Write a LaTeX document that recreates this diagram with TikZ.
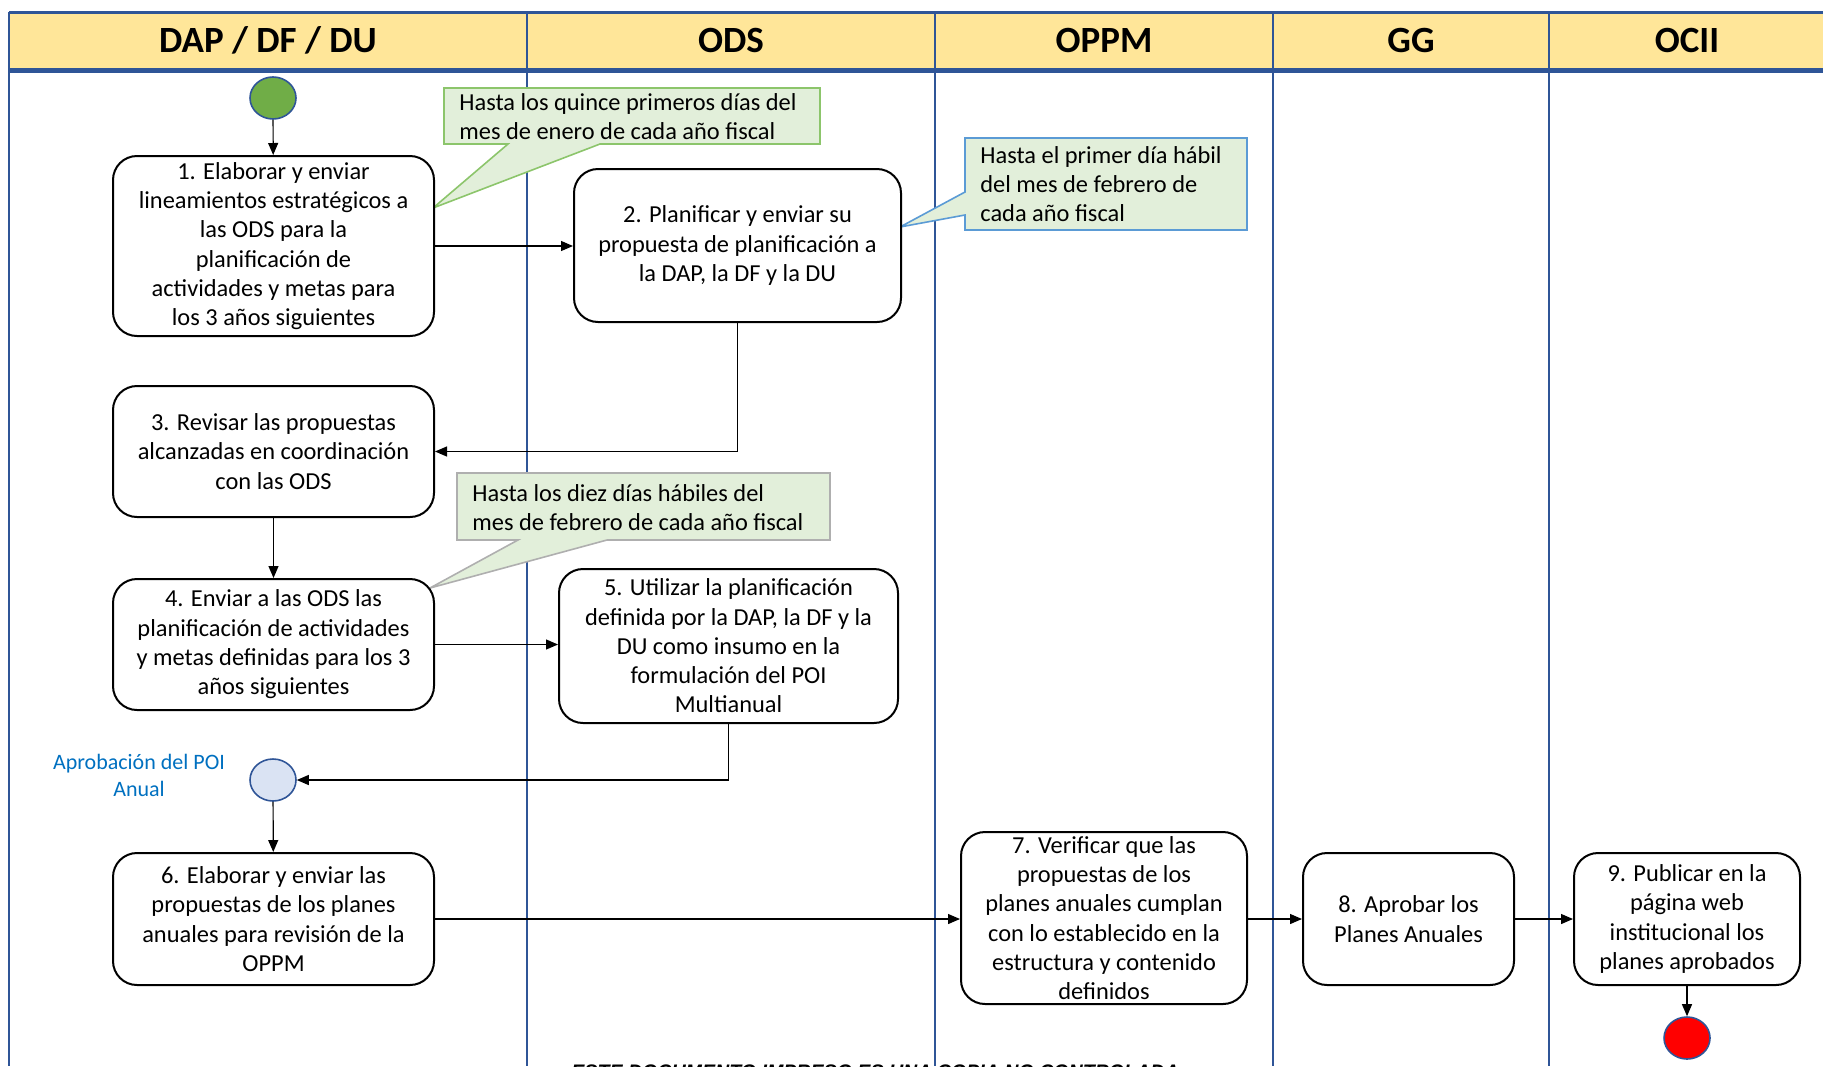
\documentclass[tikz,border=0pt]{standalone}
\usepackage{fontspec}
\setmainfont{Carlito}
\newfontfamily\stampfont{Liberation Sans}
\usetikzlibrary{shapes.geometric,arrows.meta}

\definecolor{laneblue}{HTML}{2F5597}
\definecolor{headfill}{HTML}{FFE699}
\definecolor{notefill}{HTML}{E2EFDA}
\definecolor{notegreen}{HTML}{8CC56B}
\definecolor{noteblue}{HTML}{5B9BD5}
\definecolor{notegray}{HTML}{AFAFAF}
\definecolor{startgreen}{HTML}{70AD47}
\definecolor{poifill}{HTML}{DAE3F3}
\definecolor{labelblue}{HTML}{0070C0}

\begin{document}
\begin{tikzpicture}[x=0.5pt, y=-0.5pt,
  every node/.style={font=\fontsize{12.2}{14.65}\selectfont},
  activity/.style={draw, fill=white, rounded corners=12pt, line width=1pt, align=center, inner sep=0pt},
  event/.style={ellipse, draw=laneblue, line width=0.8pt, minimum width=23pt, minimum height=21pt, inner sep=0pt},
  note/.style={align=left, anchor=west, inner sep=0pt},
  lanehead/.style={font=\bfseries\fontsize{18.5}{22}\selectfont},
  lane/.style={draw=laneblue, line width=1pt},
  flow/.style={-{Triangle[length=6pt,width=5pt]}, line width=0.6pt}]
\useasboundingbox (0,0) rectangle (1823,1066);
\clip (0,0) rectangle (1823,1066);

\fill[headfill] (9,12) rectangle (1823,70);
\draw[lane] (9,12) -- (9,1066);
\draw[lane] (527,12) -- (527,1066);
\draw[lane] (935,12) -- (935,1066);
\draw[lane] (1273,12) -- (1273,1066);
\draw[lane] (1549,12) -- (1549,1066);
\draw[laneblue, line width=1.5pt] (9,12) -- (1823,12);
\draw[laneblue, line width=2.5pt] (9,70) -- (1823,70);

\node[lanehead] (h1) at (268,40) {DAP / DF / DU};
\node[lanehead] (h2) at (731,40) {ODS};
\node[lanehead] (h3) at (1104,40) {OPPM};
\node[lanehead] (h4) at (1411,40) {GG};
\node[lanehead] (h5) at (1687,40) {OCII};

\filldraw[fill=notefill, draw=notegreen, line width=0.8pt]
  (444,88) -- (820,88) -- (820,144) -- (600,144) -- (433,208) -- (508,144) -- (444,144) -- cycle;
\node[note] (n1) at (459,116.5) {Hasta los quince primeros días del\\mes de enero de cada año fiscal};

\filldraw[fill=notefill, draw=noteblue, line width=0.8pt]
  (965,138) -- (1247,138) -- (1247,230) -- (965,230) -- (965,215) -- (900,227) -- (965,192) -- cycle;
\node[note] (n2) at (980,184) {Hasta el primer día hábil\\del mes de febrero de\\cada año fiscal};

\filldraw[fill=notefill, draw=notegray, line width=0.8pt]
  (457,473) -- (830,473) -- (830,540) -- (607,540) -- (430,588) -- (518,540) -- (457,540) -- cycle;
\node[note] (n3) at (472,507.5) {Hasta los diez días hábiles del\\mes de febrero de cada año fiscal};

\node[event, fill=startgreen] (start) at (273,98) {};
\node[activity, minimum width=160.5pt, minimum height=90pt] (b1) at (273.5,246)
  {1. Elaborar y enviar\\lineamientos estratégicos a\\las ODS para la\\planificación de\\actividades y metas para\\los 3 años siguientes};
\node[activity, minimum width=163.5pt, minimum height=76.5pt] (b2) at (737.5,245.5)
  {2. Planificar y enviar su\\propuesta de planificación a\\la DAP, la DF y la DU};
\node[activity, minimum width=160.5pt, minimum height=65.5pt] (b3) at (273.5,451.5)
  {3. Revisar las propuestas\\alcanzadas en coordinación\\con las ODS};
\node[activity, minimum width=160.5pt, minimum height=65.5pt] (b4) at (273.5,644.5)
  {4. Enviar a las ODS las\\planificación de actividades\\y metas definidas para los 3\\años siguientes};
\node[activity, minimum width=169.5pt, minimum height=77pt] (b5) at (728.5,646)
  {5. Utilizar la planificación\\definida por la DAP, la DF y la\\DU como insumo en la\\formulación del POI\\Multianual};
\node[event, fill=poifill] (poi) at (273,780) {};
\node[text=labelblue, align=center, font=\fontsize{11}{13.5}\selectfont] (poilabel) at (139,775.5)
  {Aprobación del POI\\Anual};
\node[activity, minimum width=160.5pt, minimum height=66pt] (b6) at (273.5,919)
  {6. Elaborar y enviar las\\propuestas de los planes\\anuales para revisión de la\\OPPM};
\node[activity, minimum width=143pt, minimum height=86pt] (b7) at (1104,918)
  {7. Verificar que las\\propuestas de los\\planes anuales cumplan\\con lo establecido en la\\estructura y contenido\\definidos};
\node[activity, minimum width=105.5pt, minimum height=66pt] (b8) at (1408.5,919)
  {8. Aprobar los\\Planes Anuales};
\node[activity, minimum width=113pt, minimum height=66pt] (b9) at (1687,919)
  {9. Publicar en la\\página web\\institucional los\\planes aprobados};
\node[event, fill=red] (stop) at (1687,1038) {};

\draw[flow] (start) -- (b1);
\draw[flow] (b1.east) -- (b2.west |- b1.east);
\draw[flow] (b2.south) |- (b3.east);
\draw[flow] (b3) -- (b4);
\draw[flow] (b4.east) -- (b5.west |- b4.east);
\draw[flow] (b5.south) |- (poi.east);
\draw[flow] (poi) -- (b6);
\draw[flow] (b6.east) -- (b7.west |- b6.east);
\draw[flow] (b7.east |- b8.west) -- (b8.west);
\draw[flow] (b8) -- (b9);
\draw[flow] (b9) -- (stop);

\node[anchor=base west, inner sep=0pt, font=\stampfont\bfseries\itshape\fontsize{9.8}{12}\selectfont] (stamp) at (571,1078)
  {ESTE DOCUMENTO IMPRESO ES UNA COPIA NO CONTROLADA};
\end{tikzpicture}
\end{document}
